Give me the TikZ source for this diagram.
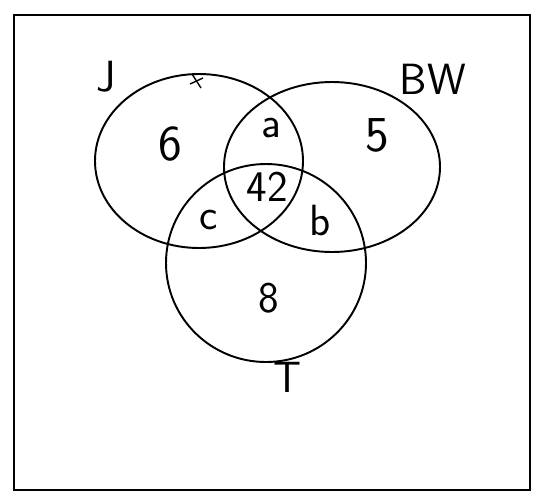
\documentclass[tikz,border=0pt]{standalone}
\usetikzlibrary{positioning}

\begin{document}
\begin{tikzpicture}[x=0.02cm, y=-0.02cm,
        set/.style={line width=1.1pt},
        lbl/.style={font=\sffamily\Huge},
        num/.style={font=\sffamily\Huge}]
        \useasboundingbox (0,0) rectangle (537,498);

        % rámeček
        \draw[line width=1.1pt] (14,15) rectangle (530,490);

        % množiny
        \draw[set] (199,161) ellipse [x radius=104, y radius=87];
        \draw[set] (332,167) ellipse [x radius=108, y radius=85];
        \draw[set] (266,263) ellipse [x radius=100, y radius=99];
        \draw[line width=0.8pt] (192,74) -- (201,88);
        \draw[line width=0.8pt] (190,84) -- (203,78);

        % popisky
        \node[lbl] (J) at (106,77) {J};
        \node[lbl] (BW) at (433,79) {BW};
        \node[lbl] (T) at (288,377) {T};

        % počty
        \node[num, scale=1.15] (six) at (170,144) {6};
        \node[num] (a) at (271,128) {a};
        \node[num, scale=1.15] (five) at (377,135) {5};
        \node[num] (all) at (267,187) {42};
        \node[num] (c) at (209,220) {c};
        \node[num] (b) at (320,220) {b};
        \node[num] (eight) at (269,298) {8};
    \end{tikzpicture}
\end{document}
